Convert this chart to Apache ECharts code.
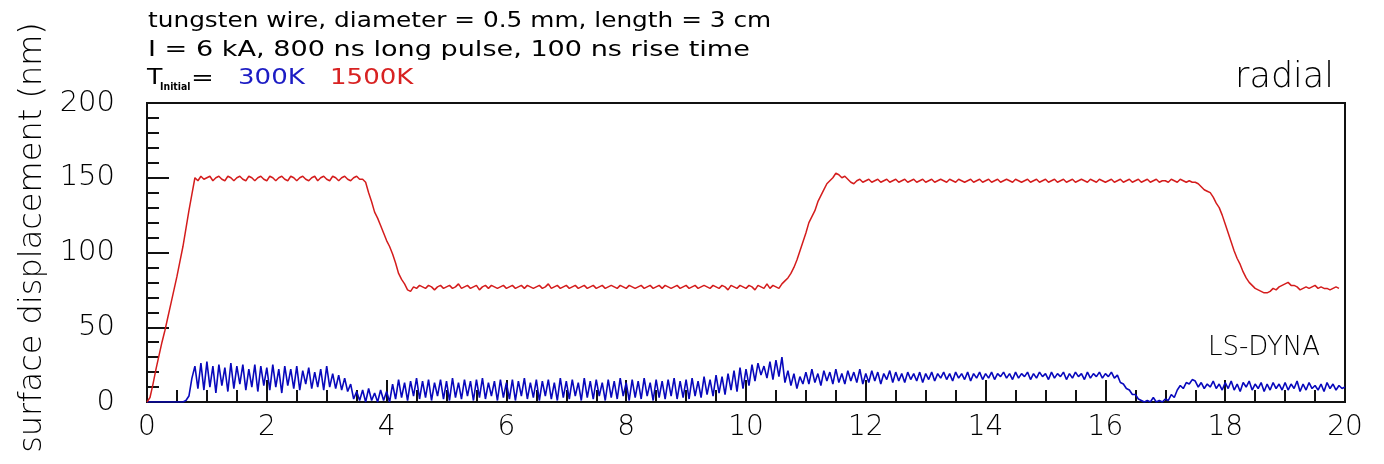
<!DOCTYPE html>
<html>
<head>
<meta charset="utf-8">
<title>surface displacement, radial</title>
<script src="https://cdn.jsdelivr.net/npm/echarts@6/dist/echarts.min.js"></script>
<style>
  html, body { margin: 0; padding: 0; background: #fff; }
  #chart { width: 1384px; height: 464px; }
</style>
</head>
<body>
<div id="chart"></div>
<script>
// time in microseconds, one sample every 0.05 (0 .. 20)
var timeStart = 0;
var timeStep = 0.05;

// T_initial = 1500K  (one row = one microsecond)
var red1500 = [
  0, 3, 12, 22, 31, 40, 48, 57, 66, 75, 84, 94, 104, 116, 128, 139, 150, 148, 151, 149,
  150, 151, 148, 150, 151, 149, 148, 151, 150, 148, 150, 151, 149, 148, 151, 150, 148, 150, 151, 149,
  148, 151, 150, 148, 150, 151, 149, 148, 151, 150, 148, 150, 151, 149, 148, 150, 151, 148, 150, 151,
  149, 148, 151, 150, 148, 150, 151, 149, 148, 150, 151, 149, 149, 147, 140, 134, 127, 123, 118, 113,
  108, 104, 99, 93, 86, 82, 79, 75, 74, 77, 76, 78, 77, 76, 78, 77, 75, 77, 78, 76,
  77, 78, 76, 77, 79, 76, 77, 78, 76, 77, 78, 75, 77, 78, 76, 78, 77, 76, 77, 78,
  76, 77, 78, 76, 77, 78, 76, 78, 77, 76, 77, 78, 76, 77, 79, 76, 77, 78, 76, 77,
  78, 76, 77, 78, 76, 77, 78, 76, 77, 78, 76, 77, 78, 76, 77, 78, 77, 76, 78, 77,
  76, 78, 77, 76, 77, 78, 76, 77, 78, 76, 77, 78, 76, 78, 77, 76, 77, 78, 76, 77,
  78, 76, 77, 78, 76, 77, 78, 77, 76, 78, 77, 76, 78, 77, 75, 78, 77, 76, 78, 77,
  76, 78, 77, 75, 78, 77, 76, 79, 76, 78, 77, 76, 79, 81, 83, 86, 90, 95, 101, 107,
  113, 120, 124, 128, 134, 138, 142, 146, 148, 150, 153, 152, 150, 151, 149, 147, 146, 148, 149, 147,
  148, 149, 147, 148, 149, 147, 148, 149, 147, 148, 149, 147, 148, 149, 147, 148, 149, 147, 148, 149,
  147, 148, 149, 147, 148, 149, 148, 147, 149, 148, 147, 149, 148, 147, 148, 149, 147, 148, 149, 147,
  148, 149, 147, 148, 149, 147, 148, 149, 148, 147, 149, 148, 147, 148, 149, 147, 148, 149, 147, 148,
  149, 147, 148, 149, 147, 148, 149, 147, 148, 149, 147, 148, 149, 148, 147, 149, 148, 147, 149, 148,
  147, 148, 149, 147, 148, 149, 147, 148, 149, 147, 148, 149, 147, 148, 149, 147, 148, 149, 147, 148,
  148, 147, 149, 148, 147, 149, 148, 147, 148, 147, 147, 146, 144, 142, 141, 140, 137, 133, 130, 125,
  119, 113, 107, 101, 96, 92, 87, 83, 80, 78, 76, 75, 74, 73, 73, 74, 76, 75, 77, 78,
  79, 80, 78, 78, 77, 75, 76, 77, 76, 77, 78, 76, 77, 76, 76, 75, 76, 77, 76, null,
  null
];

// T_initial = 300K
var blue300 = [
  0, 0, 0, 0, 0, 0, 0, 0, 0, 0, 0, 0, 0, 1, 4, 16, 24, 9, 26, 8,
  27, 10, 24, 6, 25, 11, 23, 7, 26, 9, 24, 12, 25, 8, 22, 10, 25, 7, 24, 11,
  23, 8, 25, 10, 22, 6, 24, 11, 22, 9, 24, 8, 21, 12, 23, 9, 20, 10, 22, 8,
  24, 10, 19, 9, 18, 8, 16, 7, 12, 2, 7, 1, 8, 0, 9, 1, 6, 0, 8, 1,
  7, 0, 12, 2, 15, 3, 13, 1, 14, 4, 16, 2, 14, 3, 15, 1, 13, 4, 15, 2,
  14, 1, 16, 3, 13, 2, 15, 4, 14, 1, 15, 3, 16, 2, 13, 4, 14, 1, 15, 3,
  13, 2, 15, 1, 14, 4, 16, 2, 13, 3, 15, 1, 14, 4, 15, 2, 13, 1, 16, 3,
  14, 2, 15, 4, 13, 1, 16, 3, 14, 2, 15, 4, 13, 1, 15, 3, 14, 2, 16, 4,
  13, 1, 15, 3, 14, 2, 16, 4, 13, 1, 15, 3, 14, 2, 15, 4, 16, 2, 14, 3,
  15, 2, 16, 4, 14, 3, 17, 5, 15, 4, 18, 6, 17, 5, 19, 8, 21, 7, 23, 9,
  22, 11, 25, 14, 26, 18, 24, 16, 27, 15, 28, 17, 30, 13, 21, 11, 19, 9, 17, 12,
  20, 12, 22, 13, 19, 11, 21, 14, 20, 12, 22, 13, 19, 12, 21, 14, 20, 13, 22, 12,
  19, 13, 21, 14, 20, 12, 19, 15, 21, 13, 20, 14, 19, 13, 20, 15, 19, 14, 20, 13,
  19, 15, 20, 14, 19, 16, 20, 15, 19, 14, 20, 16, 19, 15, 20, 14, 19, 16, 20, 15,
  19, 16, 20, 15, 19, 17, 20, 16, 19, 15, 20, 16, 19, 17, 20, 15, 19, 16, 20, 17,
  19, 15, 20, 16, 19, 17, 20, 15, 19, 16, 20, 17, 19, 15, 20, 16, 19, 17, 20, 16,
  19, 17, 20, 16, 18, 13, 12, 9, 8, 5, 5, 2, 1, 0, 1, 0, 3, 0, 1, 0,
  2, 1, 5, 3, 8, 11, 9, 13, 12, 15, 14, 10, 13, 9, 12, 10, 14, 9, 12, 8,
  13, 9, 14, 8, 12, 7, 13, 10, 14, 8, 12, 9, 13, 7, 12, 8, 13, 9, 12, 8,
  13, 8, 12, 9, 14, 7, 12, 8, 13, 9, 11, 8, 12, 7, 13, 9, 12, 8, 11, 9,
  10
];

var xTicks = [0, 2, 4, 6, 8, 10, 12, 14, 16, 18, 20];
var yTicks = [0, 50, 100, 150, 200];

var titleLines = [
  'tungsten wire, diameter = 0.5 mm, length = 3 cm',
  'I = 6 kA, 800 ns long pulse, 100 ns rise time'
];

function toPoints(values) {
  var pts = [];
  for (var i = 0; i < values.length; i++) {
    if (values[i] === null) continue;
    pts.push([+(timeStart + i * timeStep).toFixed(2), values[i]]);
  }
  return pts;
}

var FONT = '"DejaVu Sans", sans-serif';

var chart = echarts.init(document.getElementById('chart'));

chart.setOption({
  backgroundColor: '#fff',
  animation: false,
  grid: {
    left: 147, right: 39, top: 103, bottom: 62,
    show: true, borderColor: '#111', borderWidth: 2
  },
  xAxis: {
    type: 'value',
    min: xTicks[0], max: xTicks[xTicks.length - 1], interval: 2,
    axisLine: { lineStyle: { color: '#111', width: 2 } },
    axisTick: { inside: true, length: 22, lineStyle: { color: '#111', width: 2 } },
    minorTick: { show: true, splitNumber: 4, length: 12, lineStyle: { color: '#111', width: 2 } },
    splitLine: { show: false },
    axisLabel: { margin: 12, fontSize: 28, fontFamily: FONT, fontWeight: 200, color: '#000' }
  },
  yAxis: {
    type: 'value',
    min: yTicks[0], max: yTicks[yTicks.length - 1], interval: 50,
    name: 'surface displacement (nm)',
    nameLocation: 'middle', nameRotate: 90, nameGap: 95,
    nameTextStyle: { fontSize: 32, fontFamily: FONT, fontWeight: 200, color: '#000', padding: [0, 0, 0, 30] },
    axisLine: { lineStyle: { color: '#111', width: 2 } },
    axisTick: { inside: true, length: 22, lineStyle: { color: '#111', width: 2 } },
    minorTick: { show: true, splitNumber: 5, length: 12, lineStyle: { color: '#111', width: 2 } },
    splitLine: { show: false },
    axisLabel: { margin: 32, fontSize: 29, fontFamily: FONT, fontWeight: 200, color: '#000' }
  },
  series: [
    {
      name: '300K', type: 'line', data: toPoints(blue300),
      showSymbol: false, lineStyle: { color: '#0808bc', width: 1.6 }, z: 3
    },
    {
      name: '1500K', type: 'line', data: toPoints(red1500),
      showSymbol: false, lineStyle: { color: '#d41c1c', width: 1.5 }, z: 4
    }
  ],
  graphic: [
    { type: 'text', x: 148, y: 22, scaleX: 1.18,
      style: { text: titleLines[0], fontSize: 21, fontFamily: FONT, fill: '#000', align: 'left', verticalAlign: 'middle' } },
    { type: 'text', x: 148, y: 51, scaleX: 1.29,
      style: { text: titleLines[1], fontSize: 21, fontFamily: FONT, fill: '#000', align: 'left', verticalAlign: 'middle' } },
    { type: 'text', x: 147, y: 79, scaleX: 1.2,
      style: { text: 'T', fontSize: 21, fontFamily: FONT, fill: '#000', align: 'left', verticalAlign: 'middle' } },
    { type: 'text', x: 160, y: 87, scaleX: 0.85,
      style: { text: 'Initial', fontSize: 11, fontWeight: 'bold', fontFamily: FONT, fill: '#000', align: 'left', verticalAlign: 'middle' } },
    { type: 'text', x: 191, y: 80, scaleX: 1.3,
      style: { text: '=', fontSize: 21, fontFamily: FONT, fill: '#000', align: 'left', verticalAlign: 'middle' } },
    { type: 'text', x: 238, y: 79, scaleX: 1.24,
      style: { text: '300K', fontSize: 21, fontFamily: FONT, fill: '#1c1cc4', align: 'left', verticalAlign: 'middle' } },
    { type: 'text', x: 330, y: 79, scaleX: 1.24,
      style: { text: '1500K', fontSize: 21, fontFamily: FONT, fill: '#d82222', align: 'left', verticalAlign: 'middle' } },
    { type: 'text', x: 1334, y: 78,
      style: { text: 'radial', fontSize: 35, fontFamily: FONT, fontWeight: 200, fill: '#000', align: 'right', verticalAlign: 'middle' } },
    { type: 'text', x: 1320, y: 348,
      style: { text: 'LS-DYNA', fontSize: 26, fontFamily: FONT, fontWeight: 200, fill: '#000', align: 'right', verticalAlign: 'middle' } }
  ]
});
</script>
</body>
</html>
